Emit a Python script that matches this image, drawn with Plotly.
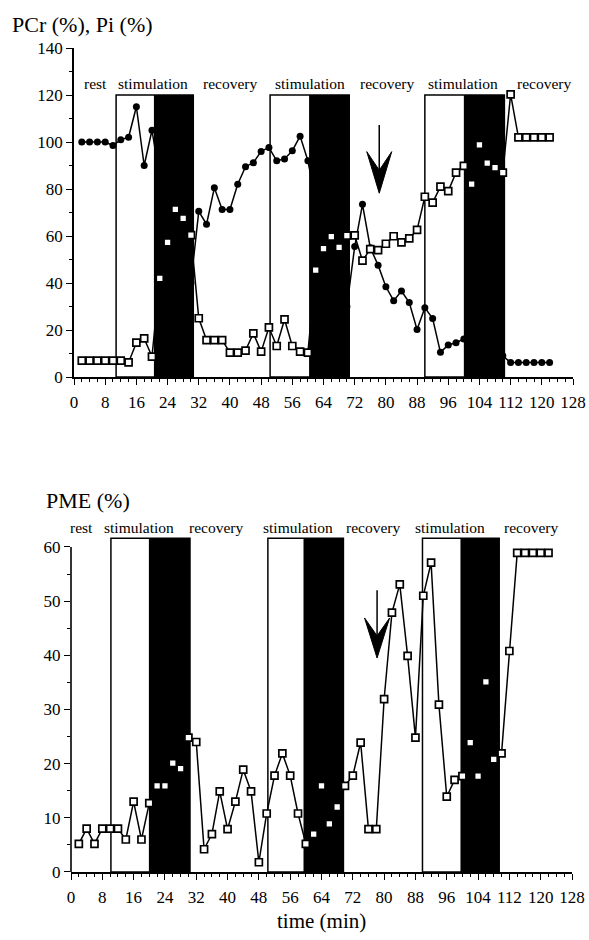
import plotly.graph_objects as go

# ---------------- data ----------------
time_min = list(range(2, 124, 2))

pcr = [100, 100, 100, 100, 98.5, 101, 102, 115, 90, 105,
       85, 70, 58, 48, 40,
       70.5, 65, 80.5, 71.3, 71.3, 82, 89.5, 91.2, 96, 97.7,
       92, 92.8, 96.3, 102.5, 92,
       75, 60, 50, 40, 30,
       55.5, 73.5, 55, 47.6, 38.4, 32.5, 36.6, 31.7, 20.2, 29.5,
       24.9, 10.5, 13.6, 14.6, 16.2,
       15, 13, 11, 10, 9,
       6.2, 6.2, 6.2, 6.2, 6.2, 6.2]

pi = [7, 7, 7, 7, 7, 7, 6.2, 14.6, 16.4, 8.7,
      42, 57.3, 71.3, 67.5, 60.4,
      25, 15.7, 15.7, 15.7, 10.4, 10.4, 11.2, 18.6, 10.8, 21.1,
      13.2, 24.5, 13.2, 10.8, 10.4,
      45.5, 54.6, 59.7, 55.2, 60.2,
      60.3, 49.5, 54.4, 54, 56.7, 59.9, 57.3, 59, 62.6, 76.7,
      74.2, 81, 79.1, 87, 89.8,
      82.1, 98.8, 91, 89.1, 87,
      120.3, 102, 102, 102, 102, 102]

pme = [5.2, 8, 5.2, 8, 8, 8, 6, 13, 6, 12.7,
       15.9, 15.9, 20.1, 19.1, 24.8,
       24, 4.2, 7, 14.9, 7.9, 13, 18.9, 14.9, 1.8, 10.8,
       17.8, 21.9, 17.8, 10.8, 5.2,
       7, 15.9, 8.9, 12, 15.9,
       17.8, 23.9, 7.9, 7.9, 31.9, 47.9, 53.1, 39.9, 24.8, 51,
       57.1, 30.9, 13.9, 17, 17.7,
       23.9, 17.7, 35.1, 20.8, 21.9,
       40.8, 58.9, 58.9, 58.9, 58.9, 58.9]

# stimulation periods: (start, black start, end)
stim_top = [(10.8, 20.5, 30.6), (50.3, 60.3, 70.6), (90.0, 100.0, 110.4)]
stim_bot = [(10.2, 19.9, 30.4), (50.3, 59.4, 69.6), (89.8, 99.5, 109.4)]
stim_top_height = 120
stim_bot_height = 61.6

phase_labels = ["rest", "stimulation", "recovery", "stimulation", "recovery",
                "stimulation", "recovery"]
phase_x_top = [5.4, 20.3, 40.0, 60.5, 80.2, 99.8, 120.5]
phase_x_bot = [2.6, 17.4, 37.1, 57.9, 77.2, 96.8, 117.4]

x_ticks = list(range(0, 129, 8))
y_ticks_top = list(range(0, 141, 20))
y_ticks_bot = list(range(0, 61, 10))

# ---------------- layout geometry ----------------
W, H = 589, 940
FONT = "Liberation Serif"

top_xdom = [74 / W, 573 / W]
top_ydom = [(H - 377) / H, (H - 48) / H]
top_yrange = [0, 140]

bot_xdom = [71 / W, 572 / W]
bot_yrange = [0, 62]
px_per_unit = (872 - 547) / 60.0
bot_ydom = [(H - 872) / H, (H - (872 - 62 * px_per_unit)) / H]


def xpaper(dom, v):
    return dom[0] + v / 128.0 * (dom[1] - dom[0])


def ypaper(dom, rng, v):
    return dom[0] + (v - rng[0]) / (rng[1] - rng[0]) * (dom[1] - dom[0])


fig = go.Figure()

line_style = dict(color="black", width=1.5)
square_marker = dict(symbol="square", size=7, color="white",
                     line=dict(color="black", width=1.7))

fig.add_trace(go.Scatter(x=time_min, y=pcr, mode="lines+markers",
                         line=line_style,
                         marker=dict(symbol="circle", size=7, color="black"),
                         xaxis="x", yaxis="y", cliponaxis=False, name="PCr"))
fig.add_trace(go.Scatter(x=time_min, y=pi, mode="lines+markers",
                         line=line_style, marker=square_marker,
                         xaxis="x", yaxis="y", cliponaxis=False, name="Pi"))
fig.add_trace(go.Scatter(x=time_min, y=pme, mode="lines+markers",
                         line=line_style, marker=square_marker,
                         xaxis="x2", yaxis="y2", cliponaxis=False, name="PME"))

shapes = []
for (a, b, c) in stim_top:
    shapes.append(dict(type="rect", xref="x", yref="y", x0=a, x1=c, y0=0,
                       y1=stim_top_height, line=dict(color="black", width=1.5),
                       fillcolor="rgba(0,0,0,0)", layer="below"))
    shapes.append(dict(type="rect", xref="x", yref="y", x0=b, x1=c, y0=0,
                       y1=stim_top_height, line=dict(width=0),
                       fillcolor="black", layer="below"))
for (a, b, c) in stim_bot:
    shapes.append(dict(type="rect", xref="x2", yref="y2", x0=a, x1=c, y0=0,
                       y1=stim_bot_height, line=dict(color="black", width=1.5),
                       fillcolor="rgba(0,0,0,0)", layer="below"))
    shapes.append(dict(type="rect", xref="x2", yref="y2", x0=b, x1=c, y0=0,
                       y1=stim_bot_height, line=dict(width=0),
                       fillcolor="black", layer="below"))


def arrow(xref, yref, x, top, notch, wing, tip, half):
    return [
        dict(type="line", xref=xref, yref=yref, x0=x, x1=x, y0=top, y1=notch,
             line=dict(color="black", width=1.5)),
        dict(type="path", xref=xref, yref=yref,
             path=f"M {x},{tip} L {x - half},{wing} L {x},{notch} L {x + half},{wing} Z",
             fillcolor="black", line=dict(color="black", width=1)),
    ]


shapes += arrow("x", "y", 78.3, 107.2, 88.0, 95.9, 78.2, 3.2)
shapes += arrow("x2", "y2", 78.2, 52.0, 43.6, 46.9, 39.5, 3.2)

# bottom panel y-axis line (only up to 60)
shapes.append(dict(type="line", xref="paper", yref="paper", x0=bot_xdom[0], x1=bot_xdom[0],
                   y0=ypaper(bot_ydom, bot_yrange, 0), y1=ypaper(bot_ydom, bot_yrange, 60),
                   line=dict(color="black", width=1.6)))

annotations = []
label_font = dict(family=FONT, size=15.5, color="black")
for lab, xp in zip(phase_labels, phase_x_top):
    annotations.append(dict(text=lab, x=xpaper(top_xdom, xp), y=ypaper(top_ydom, top_yrange, 124.7),
                            xref="paper", yref="paper", xanchor="center", yanchor="middle",
                            showarrow=False, font=label_font))
for lab, xp in zip(phase_labels, phase_x_bot):
    annotations.append(dict(text=lab, x=xpaper(bot_xdom, xp), y=ypaper(bot_ydom, bot_yrange, 63.6),
                            xref="paper", yref="paper", xanchor="center", yanchor="middle",
                            showarrow=False, font=label_font))

annotations.append(dict(text="PCr (%), Pi (%)", x=10 / W, y=1 - 24 / H, xref="paper", yref="paper",
                        xanchor="left", yanchor="middle", showarrow=False,
                        font=dict(family=FONT, size=22, color="black")))
annotations.append(dict(text="PME (%)", x=44 / W, y=1 - 500 / H, xref="paper", yref="paper",
                        xanchor="left", yanchor="middle", showarrow=False,
                        font=dict(family=FONT, size=22, color="black")))
annotations.append(dict(text="time (min)", x=321 / W, y=1 - 921 / H, xref="paper", yref="paper",
                        xanchor="center", yanchor="middle", showarrow=False,
                        font=dict(family=FONT, size=21, color="black")))

tick_font = dict(family=FONT, size=17, color="black")
xaxis_common = dict(range=[0, 128], tickvals=x_ticks, ticks="outside", ticklen=6,
                    tickwidth=1.4, tickcolor="black", showline=True, linecolor="black",
                    linewidth=1.6, showgrid=False, zeroline=False, automargin=False,
                    ticklabeloverflow="allow", ticklabelstandoff=3, tickfont=tick_font,
                    minor=dict(dtick=2, tick0=0, ticks="outside", ticklen=3,
                               tickwidth=1.2, tickcolor="black", showgrid=False))

fig.update_layout(
    width=W, height=H,
    margin=dict(l=0, r=0, t=0, b=0, pad=0, autoexpand=False),
    paper_bgcolor="white", plot_bgcolor="white",
    showlegend=False,
    shapes=shapes,
    annotations=annotations,
    xaxis=dict(domain=top_xdom, anchor="y", **xaxis_common),
    yaxis=dict(domain=top_ydom, anchor="x", range=top_yrange, tickvals=y_ticks_top,
               ticks="outside", ticklen=6, tickwidth=1.4, tickcolor="black",
               showline=True, linecolor="black", linewidth=1.6, showgrid=False,
               zeroline=False, automargin=False, ticklabeloverflow="allow", tickfont=tick_font,
               minor=dict(dtick=10, tick0=0, ticks="outside", ticklen=3,
                          tickwidth=1.2, tickcolor="black", showgrid=False)),
    xaxis2=dict(domain=bot_xdom, anchor="y2", **xaxis_common),
    yaxis2=dict(domain=bot_ydom, anchor="x2", range=bot_yrange, tickvals=y_ticks_bot,
                ticks="outside", ticklen=6, tickwidth=1.4, tickcolor="black",
                showline=False, showgrid=False, zeroline=False, automargin=False,
                ticklabeloverflow="allow", tickfont=tick_font,
                minor=dict(tickvals=[5, 15, 25, 35, 45, 55], ticks="outside", ticklen=3,
                           tickwidth=1.2, tickcolor="black", showgrid=False)),
)

fig.write_html("out.html", config={"displayModeBar": False},
               post_script="document.body.style.margin='0';document.body.style.overflow='hidden';")
